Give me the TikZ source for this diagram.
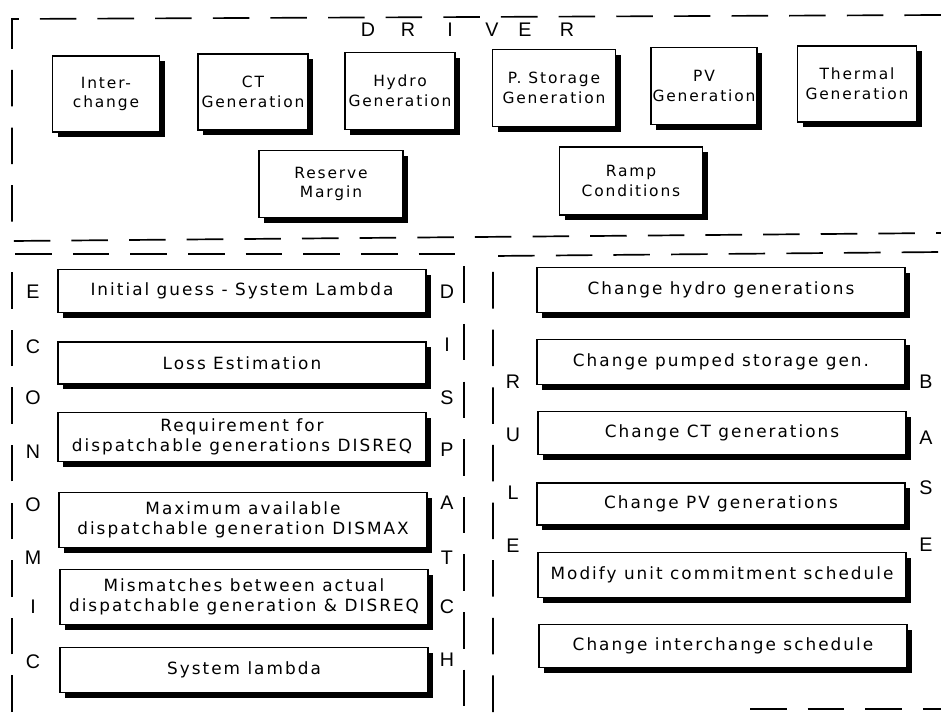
\documentclass[tikz,border=0pt]{standalone}
\usepackage{fontspec}
\setmainfont{Liberation Sans}
\newfontfamily\boxfont{DejaVu Sans}[LetterSpace=12]
\usetikzlibrary{shadows}

\begin{document}
\begin{tikzpicture}[x=0.25mm,y=-0.25mm,
  blk/.style={draw,fill=white,line width=1pt,align=center,inner sep=0pt,
    drop shadow={shadow xshift=1.3mm,shadow yshift=-1.3mm,fill=black,opacity=1}},
  size/.style 2 args={minimum width=#1*0.25mm,minimum height=#2*0.25mm},
  topblk/.style={blk,font=\boxfont\fontsize{11}{14}\selectfont},
  rowblk/.style={blk,size={368}{#1},font=\boxfont\fontsize{12}{14}\selectfont},
  frame/.style={line width=1.2pt,dash pattern=on 26pt off 15pt},
  lbl/.style={font=\fontsize{14}{14}\selectfont,inner sep=0pt}]

\useasboundingbox (0,0) rectangle (941,712);

%%%%%%%%%%%%%%%%%%%%%%%%%%%%%%%%%%%%%%

\draw[frame] (941,15) -- (12,19) -- (12,241) -- (941,233);
\draw[frame] (12,712) -- (12,254) -- (464,254) -- (464,712);
\draw[frame] (493,712) -- (493,256) -- (941,252);
\draw[frame] (750,709) -- (941,709);

\foreach \c/\x [count=\i] in {D/368,R/408,I/450,V/492,E/525,R/567}
  \node[lbl] (drv\i) at (\x,30) {\c};

%%%%%%%%%%%%%%%%%%%%%%%%%%%%%%%%%%%%%%

\node[topblk,size={107}{76}] (inter)    at (106,94)  {Inter-\\change};
\node[topblk,size={110}{76}] (ctgen)    at (253,92)  {CT\\Generation};
\node[topblk,size={110}{77}] (hydrogen) at (400,91)  {Hydro\\Generation};
\node[topblk,size={123}{77}] (psgen)    at (554,88)  {P. Storage\\Generation};
\node[topblk,size={106}{77}] (pvgen)    at (704,86)  {PV\\Generation};
\node[topblk,size={119}{76}] (thermgen) at (857,84)  {Thermal\\Generation};
\node[topblk,size={144}{67}] (reserve)  at (331,184) {Reserve\\Margin};
\node[topblk,size={143}{68}] (ramp)     at (631,181) {Ramp\\Conditions};

%%%%%%%%%%%%%%%%%%%%%%%%%%%%%%%%%%%%%%

\node[rowblk=43] (guess)    at (242,291) {Initial guess - System Lambda};
\node[rowblk=42] (loss)     at (242,363) {Loss Estimation};
\node[rowblk=49] (disreq)   at (242,437) {Requirement for\\dispatchable generations DISREQ};
\node[rowblk=55] (dismax)   at (243,520) {Maximum available\\dispatchable generation DISMAX};
\node[rowblk=55] (mismatch) at (244,597) {Mismatches between actual\\dispatchable generation \& DISREQ};
\node[rowblk=45] (lambda)   at (244,670) {System lambda};

\foreach \c/\y [count=\i] in {E/292,C/347,O/398,N/452,O/505,M/558,I/607,C/662}
  \node[lbl] (eco\i) at (33,\y) {\c};
\foreach \c/\y [count=\i] in {D/292,I/345,S/398,P/450,A/503,T/558,C/607,H/660}
  \node[lbl] (dsp\i) at (447,\y) {\c};

%%%%%%%%%%%%%%%%%%%%%%%%%%%%%%%%%%%%%%

\node[rowblk=45] (chhydro)  at (721,290) {Change hydro generations};
\node[rowblk=45] (chpumped) at (721,362) {Change pumped storage gen.};
\node[rowblk=43] (chct)     at (722,433) {Change CT generations};
\node[rowblk=42] (chpv)     at (721,504) {Change PV generations};
\node[rowblk=45] (modify)   at (722,575) {Modify unit commitment schedule};
\node[rowblk=43] (chinter)  at (723,646) {Change interchange schedule};

\foreach \c/\y [count=\i] in {R/382,U/435,L/493,E/546}
  \node[lbl] (rul\i) at (513,\y) {\c};
\foreach \c/\y [count=\i] in {B/382,A/438,S/488,E/545}
  \node[lbl] (bas\i) at (926,\y) {\c};

\end{tikzpicture}
\end{document}
